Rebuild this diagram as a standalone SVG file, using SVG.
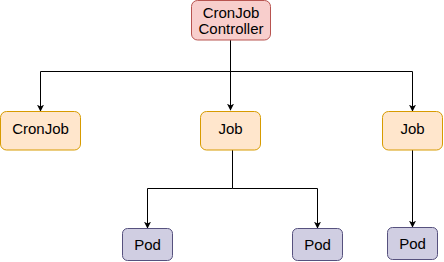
<svg xmlns="http://www.w3.org/2000/svg" width="444" height="262" viewBox="0 0 444 262">
<style>
text{font-family:"Liberation Sans",Arial,sans-serif;font-size:15px;fill:#000;text-anchor:middle}
.red{fill:#f8cecc;stroke:#b85450}
.org{fill:#ffe6cc;stroke:#d79b00}
.pur{fill:#d0cee2;stroke:#56517e}
.e{fill:none;stroke:#000;stroke-width:1}
</style>
<defs>
<marker id="a" viewBox="0 0 10 10" refX="9" refY="5" markerWidth="7" markerHeight="7" markerUnits="userSpaceOnUse" orient="auto">
<path d="M0,0 L10,5 L0,10 L2.5,5 Z" fill="#000"/>
</marker>
</defs>
<g id="edges">
<path class="e" d="M230.5,40 V110" marker-end="url(#a)"/>
<path class="e" d="M230.5,71.5 H40.5 V111" marker-end="url(#a)"/>
<path class="e" d="M230.5,71.5 H412.5 V111" marker-end="url(#a)"/>
<path class="e" d="M232.5,150 V188.5 H147.5 V228" marker-end="url(#a)"/>
<path class="e" d="M232.5,188.5 H317.5 V228" marker-end="url(#a)"/>
<path class="e" d="M412.5,150 V227" marker-end="url(#a)"/>
</g>
<g id="controller">
<rect class="red" x="191.5" y="0.5" width="79" height="39.5" rx="6"/>
<text x="231" y="17.5">CronJob</text>
<text x="231" y="33.5">Controller</text>
</g>
<g id="cronjob">
<rect class="org" x="0.5" y="111.5" width="80" height="38.5" rx="6"/>
<text x="40.5" y="134">CronJob</text>
</g>
<g id="job1">
<rect class="org" x="200.5" y="111.5" width="60" height="38.5" rx="6"/>
<text x="230.5" y="134">Job</text>
</g>
<g id="job2">
<rect class="org" x="382.5" y="111.5" width="60" height="38.5" rx="6"/>
<text x="412.5" y="134">Job</text>
</g>
<g id="pod1">
<rect class="pur" x="122.5" y="228.5" width="50" height="32" rx="5"/>
<text x="147.5" y="250">Pod</text>
</g>
<g id="pod2">
<rect class="pur" x="292.5" y="228.5" width="50" height="32" rx="5"/>
<text x="317.5" y="250">Pod</text>
</g>
<g id="pod3">
<rect class="pur" x="387.5" y="227.5" width="50" height="32" rx="5"/>
<text x="412.5" y="248.5">Pod</text>
</g>
</svg>
